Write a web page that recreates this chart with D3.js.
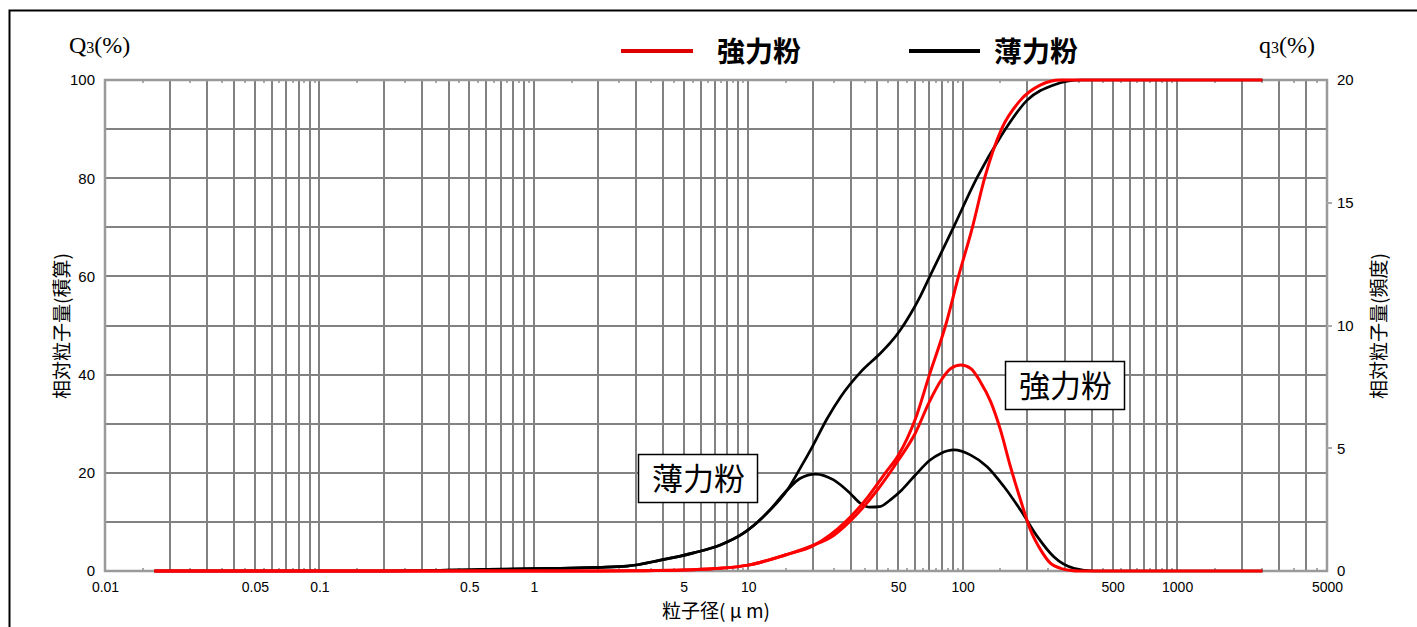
<!DOCTYPE html>
<html>
<head>
<meta charset="utf-8">
<script src="https://cdn.jsdelivr.net/npm/d3@7/dist/d3.min.js"></script>
<style>
  html, body { margin: 0; padding: 0; background: #fff; }
  svg { display: block; }
</style>
</head>
<body>
<svg id="chart" width="1417" height="627"></svg>
<script>
// Particle size distribution of two flours (laser diffraction)
// Sizes in micrometres; Q3 = cumulative volume %, q3 = frequency volume %.

const xTickLabels = [0.01, 0.05, 0.1, 0.5, 1, 5, 10, 50, 100, 500, 1000, 5000];
const yLeftTicks = [0, 20, 40, 60, 80, 100];
const yRightTicks = [0, 5, 10, 15, 20];

// 強力粉 (bread flour)
const strongQ3Size = [0.017, 0.5, 2, 3, 5, 7, 10, 15, 20, 28.4, 36, 43.6, 50, 60.2, 70, 83.2, 95.6, 111, 126.5, 151.7, 186, 231, 286, 400, 2500];
const strongQ3     = [0,     0,   0, 0.05, 0.2, 0.5, 1.2, 3.3, 5.1, 10, 15, 20, 23.5, 31, 40, 50, 60, 70, 80, 90, 95.9, 99, 100, 100, 100];
const strongq3Size = [0.017, 0.5, 2, 3, 5, 7, 10, 15, 20, 25, 30, 40, 50, 60, 70, 79, 88, 98, 109, 121, 135, 150, 167, 186, 207, 231, 257, 286, 320, 350, 2500];
const strongq3     = [0,     0,   0, 0.01, 0.04, 0.1, 0.24, 0.66, 1.04, 1.45, 2.05, 3.3, 4.5, 5.6, 6.9, 7.75, 8.25, 8.39, 8.25, 7.7, 6.9, 5.75, 4.25, 2.9, 1.67, 0.86, 0.31, 0.11, 0.02, 0, 0];

// 薄力粉 (cake flour)
const weakQ3Size = [0.017, 0.2, 0.3, 0.5, 1, 1.33, 2, 2.72, 3.89, 5.56, 7.41, 9.5, 12.2, 15.2, 17.5, 20, 23.3, 27, 33.4, 41, 46, 51, 57, 63.5, 70.8, 90.8, 117, 150, 200, 266, 355, 2500];
const weakQ3     = [0,     0,   0.05, 0.25, 0.5, 0.55, 0.75, 1.0, 2.2, 3.7, 5.3, 7.7, 11.75, 16.5, 21, 25.5, 31, 35.5, 40.5, 44.2, 46.5, 49, 52.3, 56, 60.3, 70.1, 80.2, 88.4, 95.9, 99, 100, 100];
const weakq3Size = [0.017, 0.2, 0.3, 0.5, 1, 1.33, 2, 2.72, 3.89, 5.56, 7.41, 9.5, 12.2, 15.2, 17.5, 20.6, 25, 29.9, 33.3, 37, 41, 46, 52, 60, 70.5, 79, 91, 109, 130, 156, 186, 223, 266, 330, 410, 2500];
const weakq3     = [0,     0,   0.01, 0.05, 0.1, 0.11, 0.15, 0.2, 0.44, 0.74, 1.06, 1.54, 2.35, 3.3, 3.78, 3.95, 3.71, 3.16, 2.76, 2.6, 2.62, 2.9, 3.3, 3.9, 4.52, 4.79, 4.93, 4.72, 4.25, 3.43, 2.48, 1.40, 0.58, 0.11, 0, 0];

const W = 1417, H = 627;
const plot = { left: 105, right: 1327, top: 80, bottom: 571 };

const svg = d3.select("#chart");

const x = d3.scaleLog().domain([0.01, 5000]).range([plot.left, plot.right]);
const yL = d3.scaleLinear().domain([0, 100]).range([plot.bottom, plot.top]);
const yR = d3.scaleLinear().domain([0, 20]).range([plot.bottom, plot.top]);
const px = v => Math.round(x(v));

// outer frame
svg.append("rect")
  .attr("x", 9.5).attr("y", 10.5)
  .attr("width", W + 20).attr("height", H + 20)
  .attr("fill", "none").attr("stroke", "#000").attr("stroke-width", 2);

const gridColor = "#828282";

// vertical log grid: 1..9 of every decade
const gridX = [];
for (let e = -2; e <= 3; e++) {
  for (let m = 1; m <= 9; m++) {
    const v = m * Math.pow(10, e);
    if (v > 0.01 * 1.0001 && v < 5000 * 0.9999) gridX.push(v);
  }
}
// half-step minor ticks (1.5, 2.5, ... of each decade)
const minorX = [];
for (let e = -2; e <= 3; e++) {
  for (let m = 1.5; m < 10; m += 1) {
    const v = m * Math.pow(10, e);
    if (v < 5000) minorX.push(v);
  }
}
const gridY = d3.range(10, 100, 10);

const grid = svg.append("g").attr("stroke", gridColor).attr("stroke-width", 2);
grid.selectAll("line.gx").data(gridX).join("line")
  .attr("class", "gx")
  .attr("x1", px).attr("x2", px)
  .attr("y1", plot.top).attr("y2", plot.bottom);
grid.selectAll("line.gy").data(gridY).join("line")
  .attr("class", "gy")
  .attr("x1", plot.left).attr("x2", plot.right)
  .attr("y1", d => Math.round(yL(d))).attr("y2", d => Math.round(yL(d)));
grid.selectAll("line.mb").data(minorX).join("line")
  .attr("class", "mb")
  .attr("x1", px).attr("x2", px)
  .attr("y1", plot.bottom).attr("y2", plot.bottom - 3)
  .attr("stroke", "#aaa");
grid.selectAll("line.mt").data(minorX).join("line")
  .attr("class", "mt")
  .attr("x1", px).attr("x2", px)
  .attr("y1", plot.top).attr("y2", plot.top + 3)
  .attr("stroke", "#aaa");

// plot border
svg.append("rect")
  .attr("x", plot.left).attr("y", plot.top)
  .attr("width", plot.right - plot.left).attr("height", plot.bottom - plot.top)
  .attr("fill", "none").attr("stroke", "#9a9a9a").attr("stroke-width", 2.5);

// axes (labels only)
const tickFont = "'Liberation Sans', Arial, sans-serif";
const fmtX = d => String(d);

const gx = svg.append("g")
  .attr("transform", `translate(0,${plot.bottom})`)
  .call(d3.axisBottom(x).tickValues(xTickLabels).tickFormat(fmtX).tickSize(0).tickPadding(11));
const gyl = svg.append("g")
  .attr("transform", `translate(${plot.left},0)`)
  .call(d3.axisLeft(yL).tickValues(yLeftTicks).tickSize(0).tickPadding(10));
const gyr = svg.append("g")
  .attr("transform", `translate(${plot.right},0)`)
  .call(d3.axisRight(yR).tickValues(yRightTicks).tickSize(0).tickPadding(10));
[gx, gyl, gyr].forEach(g => {
  g.select(".domain").remove();
  g.selectAll("text").attr("font-family", tickFont).attr("fill", "#000");
});
gx.selectAll("text").attr("font-size", 14);
gyl.selectAll("text").attr("font-size", 15);
gyr.selectAll("text").attr("font-size", 15);

// small outward ticks on the right axis
svg.append("g").selectAll("line").data(yRightTicks.filter(d => d > 0 && d < 20)).join("line")
  .attr("x1", plot.right).attr("x2", plot.right + 5)
  .attr("y1", d => Math.round(yR(d))).attr("y2", d => Math.round(yR(d)))
  .attr("stroke", "#aaa").attr("stroke-width", 2);

// curves
const line = (xs, ys, yScale) => d3.line()
  .x((d, i) => x(xs[i]))
  .y(d => yScale(d))
  .curve(d3.curveMonotoneX)(ys);

const series = [
  { xs: weakq3Size, ys: weakq3, y: yR, color: "#000", w: 2.7 },
  { xs: weakQ3Size, ys: weakQ3, y: yL, color: "#000", w: 2.7 },
  { xs: strongq3Size, ys: strongq3, y: yR, color: "#ff0000", w: 3 },
  { xs: strongQ3Size, ys: strongQ3, y: yL, color: "#ff0000", w: 3 }
];
svg.append("g").selectAll("path").data(series).join("path")
  .attr("d", s => line(s.xs, s.ys, s.y))
  .attr("fill", "none")
  .attr("stroke", s => s.color)
  .attr("stroke-width", s => s.w)
  .attr("stroke-linejoin", "round");

// axis unit headers
const serif = "'Liberation Serif', 'Times New Roman', serif";
const unitHeader = (label, xPos) => {
  const t = svg.append("text").attr("x", xPos).attr("y", 53)
    .attr("font-family", serif).attr("font-size", 24).attr("fill", "#000");
  t.append("tspan").text(label);
  t.append("tspan").attr("font-size", 16).text("3");
  t.append("tspan").text("(%)");
};
unitHeader("Q", 69);
unitHeader("q", 1259);

// axis titles
const jp = "'Noto Sans CJK JP', 'Noto Sans CJK SC', sans-serif";
svg.append("text").attr("x", 716).attr("y", 618)
  .attr("text-anchor", "middle").attr("font-family", jp).attr("font-size", 19)
  .text("粒子径( μ m)");
svg.append("text").attr("transform", "translate(69,326) rotate(-90)")
  .attr("text-anchor", "middle").attr("font-family", jp).attr("font-size", 19)
  .text("相対粒子量(積算)");
svg.append("text").attr("transform", "translate(1386,326) rotate(-90)")
  .attr("text-anchor", "middle").attr("font-family", jp).attr("font-size", 19)
  .text("相対粒子量(頻度)");

// legend
const legend = [
  { name: "強力粉", color: "#dd0000", x0: 621, x1: 693, tx: 717 },
  { name: "薄力粉", color: "#000", x0: 909, x1: 980, tx: 994 }
];
const lg = svg.append("g");
lg.selectAll("line").data(legend).join("line")
  .attr("x1", d => d.x0).attr("x2", d => d.x1)
  .attr("y1", 51).attr("y2", 51)
  .attr("stroke", d => d.color).attr("stroke-width", 4);
lg.selectAll("text").data(legend).join("text")
  .attr("x", d => d.tx).attr("y", 62)
  .attr("font-family", jp).attr("font-weight", "bold").attr("font-size", 28)
  .text(d => d.name);

// boxed annotations
const notes = [
  { text: "薄力粉", x: 638, y: 454, w: 119, h: 48 },
  { text: "強力粉", x: 1005, y: 361, w: 119, h: 48 }
];
const ng = svg.append("g").selectAll("g").data(notes).join("g");
ng.append("rect")
  .attr("x", d => d.x + 0.5).attr("y", d => d.y + 0.5)
  .attr("width", d => d.w).attr("height", d => d.h)
  .attr("fill", "#fff").attr("stroke", "#000").attr("stroke-width", 1.5);
ng.append("text")
  .attr("x", d => d.x + d.w / 2 + 1).attr("y", d => d.y + 36)
  .attr("text-anchor", "middle").attr("font-family", jp).attr("font-size", 31)
  .text(d => d.text);
</script>
</body>
</html>
